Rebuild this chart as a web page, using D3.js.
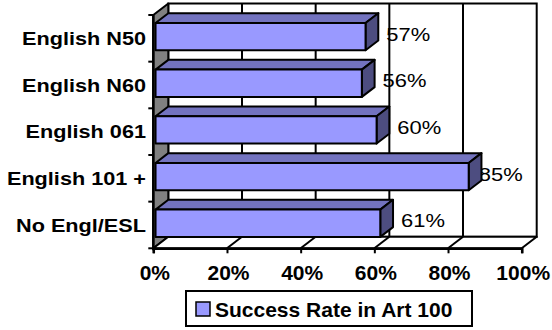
<!DOCTYPE html>
<html>
<head>
<meta charset="utf-8">
<script src="https://cdn.jsdelivr.net/npm/d3@7"></script>
<style>
  html, body { margin: 0; padding: 0; background: #fff; }
  svg { display: block; }
  text { font-family: "Liberation Sans", Arial, sans-serif; fill: #000; }
</style>
</head>
<body>
<svg id="chart" width="552" height="330"></svg>
<script>
// Success rate in Art 100 by English placement
const categories = ["English N50", "English N60", "English 061", "English 101 +", "No Engl/ESL"];
const successRate = [0.57, 0.56, 0.60, 0.85, 0.61];
const xTickValues = [0, 0.2, 0.4, 0.6, 0.8, 1.0];
const seriesName = "Success Rate in Art 100";

const svg = d3.select("#chart");

// front plane of the 3D plot box
const x = d3.scaleLinear().domain([0, 1]).range([153.3, 521.7]);
const y = d3.scaleBand().domain(categories).range([15, 248.3])
  .paddingInner(0.415).paddingOuter(0.2075);

// depth of the box (offset of back plane from front plane)
const DX = 15, DY = -11.5;
const barFront = 0.15, barBack = 1.0;   // fraction of depth occupied by bars

const x0 = x(0), x1 = x(1);
const yTop = y.range()[0], yBot = y.range()[1];
const pt = (px, py) => px + "," + py;
const poly = (pts) => pts.map(p => pt(p[0], p[1])).join(" ");

const colors = { front: "#9999FF", top: "#7373BF", side: "#4D4D80", wall: "#808080" };

// back wall
svg.append("rect")
  .attr("x", x0 + DX).attr("y", yTop + DY)
  .attr("width", x1 - x0).attr("height", yBot - yTop)
  .attr("fill", "#fff").attr("stroke", "#000").attr("stroke-width", 2);

// vertical gridlines on the back wall
svg.append("g").selectAll("line")
  .data(xTickValues.filter(d => d > 0 && d < 1))
  .join("line")
  .attr("x1", d => x(d) + DX).attr("x2", d => x(d) + DX)
  .attr("y1", yTop + DY).attr("y2", yBot + DY)
  .attr("stroke", "#000").attr("stroke-width", 2);

// left side wall
svg.append("polygon")
  .attr("points", poly([[x0, yTop], [x0 + DX, yTop + DY], [x0 + DX, yBot + DY], [x0, yBot]]))
  .attr("fill", colors.wall).attr("stroke", "#000").attr("stroke-width", 2)
  .attr("stroke-linejoin", "round");

// floor
svg.append("polygon")
  .attr("points", poly([[x0, yBot], [x1, yBot], [x1 + DX, yBot + DY], [x0 + DX, yBot + DY]]))
  .attr("fill", "#fff").attr("stroke", "#000").attr("stroke-width", 2)
  .attr("stroke-linejoin", "round");

// floor gridlines
svg.append("g").selectAll("line")
  .data(xTickValues.filter(d => d > 0 && d < 1))
  .join("line")
  .attr("x1", d => x(d)).attr("y1", yBot)
  .attr("x2", d => x(d) + DX).attr("y2", yBot + DY)
  .attr("stroke", "#000").attr("stroke-width", 2);

// bottom value axis
const xAxis = d3.axisBottom(x)
  .tickValues(xTickValues)
  .tickFormat(d3.format(".0%"))
  .tickSize(5)
  .tickPadding(12);
const gx = svg.append("g").attr("transform", `translate(0,${yBot})`).call(xAxis);
gx.attr("font-family", null);
gx.select(".domain").attr("stroke", "#000").attr("stroke-width", 2.5);
gx.selectAll(".tick line").attr("stroke", "#000").attr("stroke-width", 2);
gx.selectAll(".tick text")
  .attr("font-size", 21).attr("font-weight", "bold")
  .attr("dy", null).attr("y", 31.5).attr("dx", 1);

// left category axis line and boundary ticks
svg.append("line")
  .attr("x1", x0).attr("x2", x0).attr("y1", yTop).attr("y2", yBot + 2)
  .attr("stroke", "#000").attr("stroke-width", 2.5);
const bounds = categories.map(c => y(c) - y.step() * y.paddingOuter()).concat([yBot]);
svg.append("g").selectAll("line")
  .data(bounds)
  .join("line")
  .attr("x1", x0 - 5).attr("x2", x0)
  .attr("y1", d => d).attr("y2", d => d)
  .attr("stroke", "#000").attr("stroke-width", 2);

// category labels
svg.append("g").selectAll("text")
  .data(categories)
  .join("text")
  .attr("transform", d => `translate(146,${y(d) + y.bandwidth() / 2 + 6.7}) scale(1.165,1)`)
  .attr("text-anchor", "end")
  .attr("font-size", 18.6).attr("font-weight", "bold")
  .text(d => d);

const fdx = DX * barFront, fdy = DY * barFront;
const bdx = DX * (barBack - barFront), bdy = DY * (barBack - barFront);
const bars = categories.map((c, i) => ({ cat: c, v: successRate[i] }));

// value labels (drawn beneath the bars)
const fmt = d3.format(".0%");
svg.append("g").selectAll("text")
  .data(bars)
  .join("text")
  .attr("font-size", 18.6)
  .text(d => fmt(d.v))
  .each(function (d) {
    const w = this.getComputedTextLength() * 1.18;
    const endX = x(d.v) + fdx + bdx;
    const lx = Math.min(endX + 8, 522.7 - w);
    const by = y(d.cat) + fdy + y.bandwidth() / 2 + 4;
    d3.select(this).attr("transform", `translate(${lx},${by}) scale(1.18,1)`);
  });

// 3D bars
const gb = svg.append("g");
bars.forEach(d => {
  const l = x0 + fdx, r = x(d.v) + fdx;
  const t = y(d.cat) + fdy, b = t + y.bandwidth();
  const g = gb.append("g").attr("stroke", "#000").attr("stroke-width", 2).attr("stroke-linejoin", "round");
  g.append("polygon").attr("fill", colors.top)
    .attr("points", poly([[l, t], [r, t], [r + bdx, t + bdy], [l + bdx, t + bdy]]));
  g.append("polygon").attr("fill", colors.side)
    .attr("points", poly([[r, t], [r + bdx, t + bdy], [r + bdx, b + bdy], [r, b]]));
  g.append("rect").attr("fill", colors.front)
    .attr("x", l).attr("y", t).attr("width", r - l).attr("height", b - t);
});

// legend
const lg = svg.append("g");
lg.append("rect")
  .attr("x", 186).attr("y", 291).attr("width", 286).attr("height", 35)
  .attr("fill", "#fff").attr("stroke", "#000").attr("stroke-width", 2);
lg.append("rect")
  .attr("x", 196).attr("y", 302).attr("width", 14).attr("height", 14)
  .attr("fill", colors.front).attr("stroke", "#000").attr("stroke-width", 1.5);
lg.append("text")
  .attr("x", 215).attr("y", 316.7)
  .attr("font-size", 21).attr("font-weight", "bold")
  .text(seriesName);
</script>
</body>
</html>
